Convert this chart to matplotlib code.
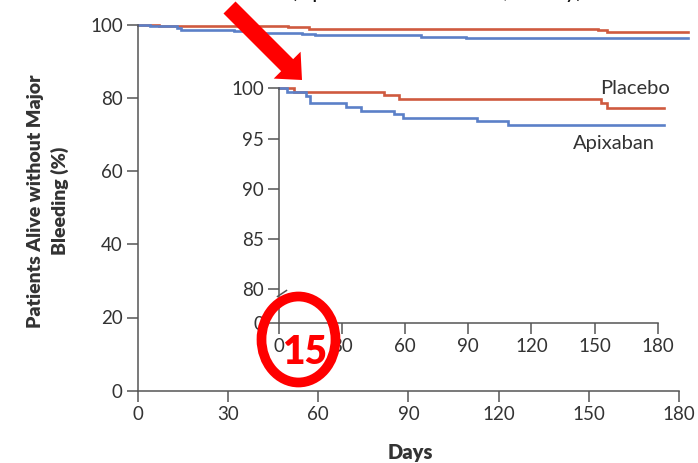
import numpy as np
import matplotlib
matplotlib.use('Agg')
import matplotlib.pyplot as plt
from matplotlib.patches import Ellipse, Polygon

# -----------------------------------------------------------------------------
# data: Kaplan-Meier steps (day of event, % alive without major bleeding)

placebo_days = [0, 7, 50, 57, 153, 156, 183]
placebo_pct = [100, 99.66, 99.33, 98.9, 98.5, 98.06, 98.06]

apixaban_days = [0, 4, 13, 14.5, 32, 39, 54.5, 59, 94, 109, 183]
apixaban_pct = [100, 99.6, 99.23, 98.56, 98.16, 97.76, 97.43, 97.06, 96.73, 96.33, 96.33]

day_ticks = [0, 30, 60, 90, 120, 150, 180]
main_yticks = [0, 20, 40, 60, 80, 100]
inset_floor = 76.62          # where the broken inset axis sits ("0")
inset_yticks = [inset_floor, 80, 85, 90, 95, 100]
inset_ylabels = ['0', '80', '85', '90', '95', '100']

# -----------------------------------------------------------------------------
# style

RED = '#cf5a3f'
BLUE = '#5b80c8'
TXT = '#333333'
AX = '#555555'

plt.rcParams['font.family'] = ['Lato', 'DejaVu Sans']
plt.rcParams['font.size'] = 13.5

W, H = 698, 463
fig = plt.figure(figsize=(W / 100, H / 100), dpi=100)


def px_axes(x0, x1, y_top, y_bot):
    # axes rectangle from pixel edges
    return fig.add_axes([x0 / W, 1 - y_bot / H, (x1 - x0) / W, (y_bot - y_top) / H])


def style(ax, xmax):
    for s in ['top', 'right']:
        ax.spines[s].set_visible(False)
    for s in ['left', 'bottom']:
        ax.spines[s].set_color(AX)
        ax.spines[s].set_linewidth(1.1)
    ax.spines['bottom'].set_bounds(0, xmax)
    ax.tick_params(direction='out', length=7.8, width=1.1, color=AX,
                   labelcolor=TXT, pad=3)
    ax.patch.set_alpha(0)


def curves(ax):
    ax.plot(placebo_days, placebo_pct, drawstyle='steps-post', color=RED,
            lw=1.9, clip_on=False, solid_joinstyle='miter')
    ax.plot(apixaban_days, apixaban_pct, drawstyle='steps-post', color=BLUE,
            lw=1.9, clip_on=False, solid_joinstyle='miter')


# -----------------------------------------------------------------------------
# main plot, 0-100 %

ax = px_axes(137.7, 688.3, 24.7, 390.7)
curves(ax)
ax.set_xlim(0, 183)
ax.set_ylim(0, 100)
ax.set_xticks(day_ticks)
ax.set_yticks(main_yticks)
style(ax, 180)
ax.spines['left'].set_bounds(0, 100)

fig.text(48 / W, 1 - 201 / H, 'Patients Alive without Major\nBleeding (%)',
         rotation=90, ha='center', va='center', fontweight='heavy',
         fontsize=14, color=TXT, linespacing=1.45)
fig.text(410 / W, 1 - 452 / H, 'Days', ha='center', va='center',
         fontweight='heavy', fontsize=14.5, color=TXT)

# -----------------------------------------------------------------------------
# inset, zoomed 80-100 %

ins = px_axes(279, 664, 88.3, 323.3)
curves(ins)
ins.set_xlim(0, 183)
ins.set_ylim(inset_floor, 100)
ins.set_xticks(day_ticks)
ins.set_yticks(inset_yticks)
ins.set_yticklabels(inset_ylabels)
style(ins, 180)
ins.spines['left'].set_bounds(inset_floor, 100)

ins.text(186, 100.0, 'Placebo', ha='right', va='center', color=TXT, fontsize=14.5)
ins.text(178.5, 94.55, 'Apixaban', ha='right', va='center', color=TXT, fontsize=14.5)

# -----------------------------------------------------------------------------
# overlay in pixel units: axis break, arrow, circled number

ov = fig.add_axes([0, 0, 1, 1])
ov.set_xlim(0, W)
ov.set_ylim(H, 0)
ov.axis('off')
ov.patch.set_alpha(0)

ov.plot([277.5, 286.5], [296.5, 290.5], color=AX, lw=1.1)

tail = np.array([229.5, 7.5])
tip = np.array([302.0, 80.0])
d = (tip - tail) / np.hypot(*(tip - tail))
n = np.array([d[1], -d[0]])
sw, hw, hl = 17, 38, 21
base = tip - hl * d
arrow = [tail + n * sw / 2, base + n * sw / 2, base + n * hw / 2, tip,
         base - n * hw / 2, base - n * sw / 2, tail - n * sw / 2]
ov.add_patch(Polygon(arrow, closed=True, color='#ff0000', lw=0))

ov.add_patch(Ellipse((298.5, 339.5), 74, 86, fill=False, ec='#ff0000', lw=7))
ov.text(305, 353, '15', color='#ff0000', fontsize=28, fontweight='heavy',
        ha='center', va='center')

# title line above the frame, only its lower edge falls inside
fig.text(437 / W, 1 + 2 / H, '(Apixaban vs. Placebo, Safety)', ha='center',
         va='baseline', fontsize=16, color='#111111')

fig.savefig('out.png', dpi=100)
